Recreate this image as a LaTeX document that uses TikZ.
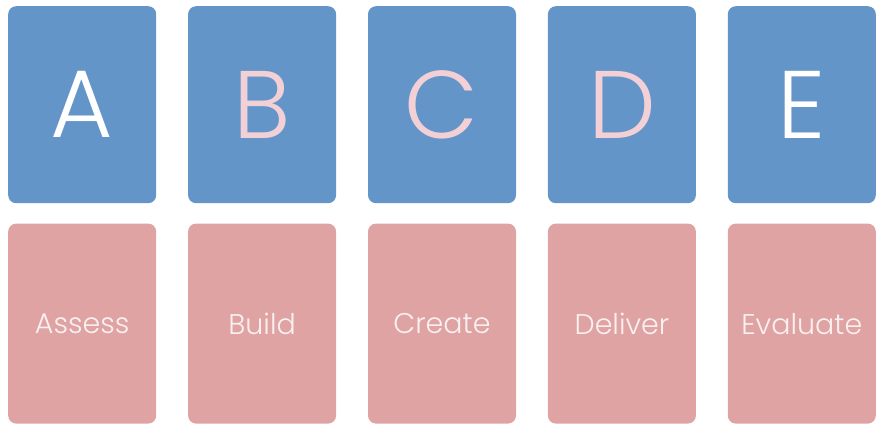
\documentclass[tikz,border=0pt]{standalone}
\usepackage{fontspec}
\setmainfont{Poppins Light}
\usetikzlibrary{positioning}
\definecolor{cardblue}{RGB}{100,149,201}
\definecolor{cardpink}{RGB}{224,163,164}
\definecolor{letterpink}{RGB}{242,208,214}
\definecolor{wordwhite}{RGB}{250,240,240}
\begin{document}
\begin{tikzpicture}[
        x=1pt, y=1pt,
        node distance=31.5pt and 31.5pt,
        card/.style={rounded corners=8pt, inner sep=0pt, minimum width=148pt},
        letter/.style={card, fill=cardblue, minimum height=197pt, font=\fontsize{96}{96}\selectfont},
        word/.style={card, fill=cardpink, minimum height=200pt, text=wordwhite, font=\fontsize{28.5}{28.5}\selectfont},
    ]
    \useasboundingbox (0,0) rectangle (876,-425);
    % top row
    \node[letter, text=white, anchor=north west] (a) at (8,-6) {A};
    \node[letter, text=letterpink, right=of a] (b) {B};
    \node[letter, text=letterpink, right=of b] (c) {C};
    \node[letter, text=letterpink, right=of c] (d) {D};
    \node[letter, text=white, right=of d] (e) {E};
    % bottom row
    \node[word, below=20pt of a] (assess) {Assess};
    \node[word, below=20pt of b] (build) {Build};
    \node[word, below=20pt of c] (create) {Create};
    \node[word, below=20pt of d] (deliver) {Deliver};
    \node[word, below=20pt of e] (evaluate) {Evaluate};
\end{tikzpicture}
\end{document}
